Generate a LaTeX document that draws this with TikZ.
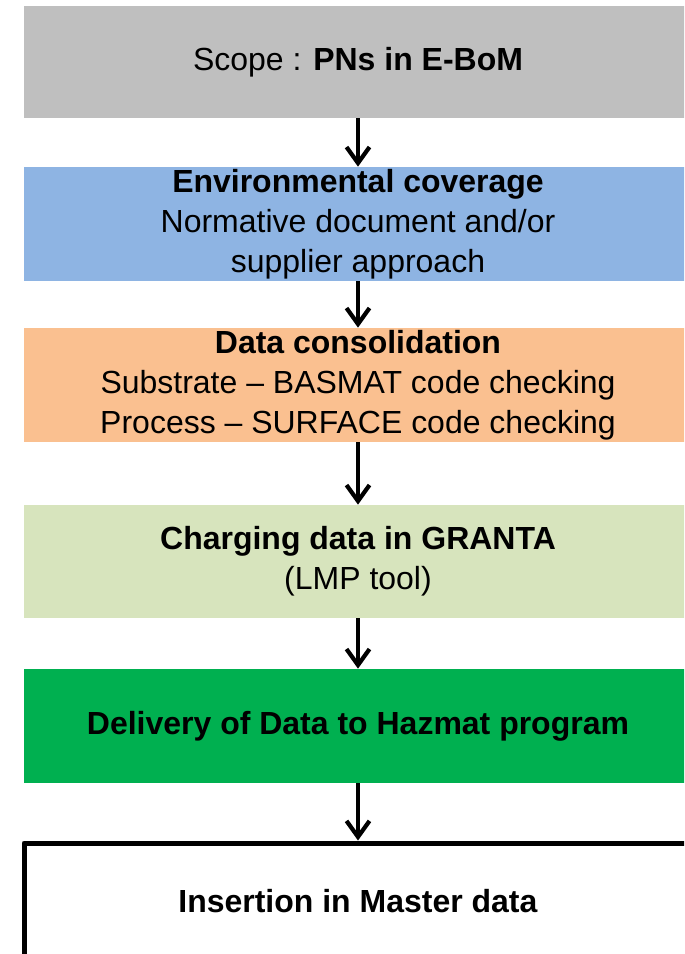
\documentclass[tikz,border=0pt]{standalone}
\usepackage{fontspec}
\setmainfont{Liberation Sans}
\usetikzlibrary{arrows.meta}
\definecolor{scopegray}{HTML}{BFBFBF}
\definecolor{envblue}{HTML}{8EB4E3}
\definecolor{consorange}{HTML}{FAC090}
\definecolor{grantagreen}{HTML}{D7E4BD}
\definecolor{hazgreen}{HTML}{00B050}

\begin{document}
\begin{tikzpicture}[
  stepbox/.style={minimum width=13.36cm, minimum height=2.28cm, inner sep=0pt,
    align=center, font=\fontsize{18.2}{22.8}\selectfont},
  flow/.style={line width=2.4pt, -{Straight Barb[length=3.2mm,width=4.6mm]}}]
\useasboundingbox (0,0) rectangle (13.68,-19.08);
\clip (0,0) rectangle (13.68,-19.08);
% boxes, top to bottom
\node[stepbox, fill=scopegray, minimum height=2.24cm] (scope) at (7.16,-1.24)
  {Scope : \textbf{PNs in E-BoM}};
\node[stepbox, fill=envblue] (env) at (7.16,-4.48)
  {\textbf{Environmental coverage}\\Normative document and/or\\supplier approach};
\node[stepbox, fill=consorange] (cons) at (7.16,-7.70)
  {\textbf{Data consolidation}\\Substrate -- BASMAT code checking\\Process -- SURFACE code checking};
\node[stepbox, fill=grantagreen, minimum height=2.26cm] (granta) at (7.16,-11.23)
  {\textbf{Charging data in GRANTA}\\(LMP tool)};
\node[stepbox, fill=hazgreen] (hazmat) at (7.16,-14.52)
  {\textbf{Delivery of Data to Hazmat program}};
\node[stepbox, draw, line width=0.1cm, line join=round, minimum height=2.32cm] (master) at (7.16,-18.02)
  {\textbf{Insertion in Master data}};
% arrows
\draw[flow] (scope) -- (env);
\draw[flow] (env) -- (cons);
\draw[flow] (cons) -- (granta);
\draw[flow] (granta) -- (hazmat);
\draw[flow] (hazmat) -- (master.north);
\end{tikzpicture}
\end{document}
